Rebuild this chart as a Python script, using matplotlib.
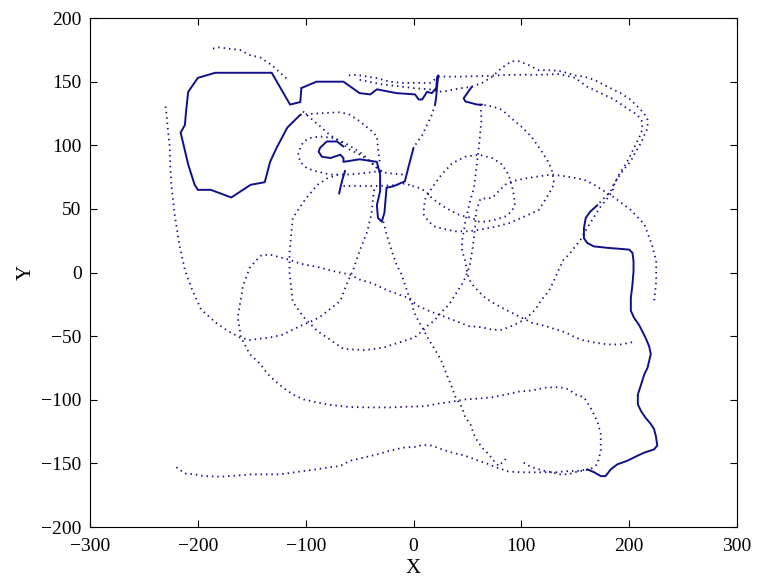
import matplotlib
matplotlib.use("Agg")
import matplotlib.pyplot as plt

# trajectory pieces (X, Y)
# dense (solid-looking) parts
loop_x = [-104, -105, -114.5, -131.5, -150, -170, -184, -200, -209, -211, -212, -216, -214, -209, -203, -200, -188, -169, -160, -151, -138, -133, -127, -117, -105]
loop_y = [145, 134, 132, 157, 157, 157, 157, 153, 142, 126, 116, 110, 103, 85, 69, 65, 65, 59, 64, 69, 71, 87, 98, 114, 124]

top_x = [-104, -90, -65, -50, -40, -34, -15.6, 1.4, 4.8, 8, 11, 12.5, 17, 21, 22, 23, 22, 21, 20]
top_y = [145, 150, 150, 141, 140, 144, 141, 140, 136, 136, 140, 142, 141, 145, 154, 155, 148, 138, 132]

drop_x = [0, -1.7, -5, -8, -19, -25]
drop_y = [98, 92.6, 82, 71.7, 67.7, 66.7]

spiral_x = [-65, -71, -80.5, -86.7, -88, -85, -77, -68, -65, -65, -50, -34, -31, -31, -34, -33, -29.5, -27, -26, -25]
spiral_y = [99, 103, 103, 98, 95, 91, 90, 92.6, 90, 87, 89, 87, 77, 64, 53, 43, 40, 47, 57, 66.7]

stub_x = [-63.5, -66, -68, -69]
stub_y = [80, 73, 66, 62]

tri_x = [54, 46.5, 48, 59, 63.5]
tri_y = [146, 137, 134.5, 132, 132]

right_x = [161, 167.6, 173.6, 178, 183, 189, 198, 207.6, 214, 223, 226, 224.7, 223, 220, 215, 211, 208, 208, 211, 214, 217, 220, 218.5, 215, 212, 209, 204.5, 201.5, 201.5, 203, 204, 204, 203, 200, 192, 180, 167, 161, 158, 158, 159.7, 164, 170.5]
right_y = [-154.6, -157, -160, -160, -154.6, -150.7, -148, -144, -141.5, -139, -136, -128.5, -123, -119, -114, -109, -103.6, -95.8, -88, -80, -74.8, -64, -58, -51, -46, -41, -35.6, -30, -20, -9.4, 1, 9, 15.5, 18, 18.6, 19.4, 20.6, 23.3, 27, 35, 43, 48, 53]

# dotted parts
arc_x = [-186, -180, -172, -161, -152, -142, -131.5, -121, -116]
arc_y = [176, 177, 176, 175, 171, 169, 163, 155, 151]

left_x = [-230, -229, -228, -226, -225.6, -224.6, -221.5, -217, -212, -206, -197, -184, -172, -161, -152, -133, -122, -105, -94, -87, -68, -62, -56, -50, -43, -39, -37.5, -36]
left_y = [130.5, 124, 114, 98, 84.7, 69, 45.5, 21, 2, -12, -29, -39, -46, -51, -53, -51, -49, -42, -38, -35, -22.5, -9, 2, 17, 32, 46, 59, 68]

midh_x = [-65, -50, -36, -20, -8, -1]
midh_y = [68, 68, 68, 68.5, 70, 68]

sink_x = [20, 17, 12.5, 8, 3, 0]
sink_y = [132, 124, 116, 108, 102, 98]

junc_x = [-102.5, -96, -86.7, -77.5, -68, -59, -49.6, -40, -34, -29.5]
junc_y = [126.6, 121.7, 115, 108, 103, 96.5, 92.6, 87, 82, 79.5]

bend_x = [-105, -90, -68, -59, -50, -40, -34, -33, -31]
bend_y = [124, 125, 126, 124, 119, 112, 107, 98, 85]

mid_x = [-29.5, -37, -46.6, -56, -63.5, -74, -86.7, -96, -102, -105, -107, -105, -99, -90, -77.5, -62, -46.6, -34, -22, -9.5]
mid_y = [79.5, 84.8, 92.6, 98, 101.8, 105.7, 107, 105.7, 103, 98, 92.6, 87, 82, 79.5, 77, 77, 78, 79.5, 78, 77]

upper1_x = [-60, -53, -34, -22, -9.5, 1.4, 15, 22]
upper1_y = [155, 155.4, 152.8, 150, 149, 149, 149, 153]

upper2_x = [-50, -30, -10, 0, 15, 26.4, 35.7, 45, 54]
upper2_y = [151.5, 148, 146, 145, 144, 142, 143.6, 145, 146]

ell_x = [-70, -80, -89, -100, -112, -115, -115, -112, -102, -89, -65, -45, -28, 1, 8, 14, 19, 26, 33, 39, 45, 48, 52, 55, 57, 58, 62, 73, 79, 85, 91, 104, 116, 128.5, 141, 151.7, 158, 167.6, 186, 201, 214, 221, 225, 225, 223]
ell_y = [77, 74, 69, 58, 43, 16, 0, -23, -35, -46, -60, -61, -59, -51, -46, -41, -38, -31, -25, -17, -9, -4, 5, 20, 35, 48, 58, 58.6, 64, 69, 71.7, 74, 75.6, 77, 75.6, 74, 73, 69, 59, 49.5, 38, 22, 9, -7, -23.5]

vert_x = [62, 63, 62, 60.5, 58, 56, 52.7, 51, 48, 46.5, 45, 45, 48, 49.6, 51, 54, 60.5, 66.6, 76, 85, 91, 100.6, 110, 122, 132, 141, 150, 158, 167.6, 180, 192, 201.5, 206]
vert_y = [132, 120, 111, 98, 80, 66.5, 57, 51, 40, 32, 25, 17, 9, 1, -4, -9, -15, -20, -25, -29, -31.6, -35.6, -39.5, -42, -44.7, -47, -51, -53.4, -55, -56.5, -56.5, -55, -54]

fig8_x = [-1, 5, 11, 17, 23, 29.5, 36, 42, 48, 54, 60.5, 66.6, 76, 85, 91, 94, 93, 91, 88, 82, 73, 60.5, 48, 36, 26, 17, 11, 9.5, 9.5, 14, 20, 29.5, 39, 51, 63.5, 76, 89, 100, 116, 125, 130, 130, 128.5, 125, 119, 110, 101, 91, 82, 73, 63.5]
fig8_y = [68, 66.5, 64, 58.6, 54.7, 51, 48, 45.5, 44, 43, 40, 40, 41.6, 44, 48, 53, 61, 69, 77, 85, 90, 92.6, 91, 86, 77, 66.5, 58, 51, 45.5, 40, 36, 34, 32.4, 32.4, 34, 36, 39, 43, 49, 61, 69, 72, 79.5, 87, 95, 106, 114, 121, 128, 130.5, 132]

hump_x = [54, 63.5, 73, 82, 91, 98, 107, 116, 128.5, 138, 149, 158, 167.6, 180, 192, 201, 207.6, 214, 217, 217, 214, 211, 206, 201.5, 195, 189, 184.6, 183, 176.7, 170.5]
hump_y = [146, 149, 154, 161, 166, 166, 163, 159, 159, 158, 155, 154, 151.5, 146, 141, 136, 130.5, 125, 120, 113.6, 108, 102, 95, 87.6, 81, 74, 67.7, 64, 58.6, 53]

long_x = [23, 45, 70, 91, 116, 135, 150, 161, 173.6, 186, 198, 207.6, 212, 212, 209, 204.5, 200, 195, 190.6, 186, 184.6, 180, 173.6, 167.6, 161, 155, 150, 144, 139, 134.7, 130, 125.4, 119, 113, 107, 100.6, 91, 82, 73, 63.5, 51, 39, 26.4, 14, 4.8, -6, -19, -28, -37.6, -50, -59, -68, -77, -87, -96, -105, -115, -124, -133, -141, -147, -152, -158, -163, -160, -152, -142, -136, -130, -121, -111.5, -102, -90, -77.5, -59, -40, -22, -3, 11, 23, 35.7, 48, 60.5, 73, 85, 97.6, 110, 122, 135, 144, 150, 158, 164, 170.5, 173.6, 173.6, 170.5, 164, 155, 149, 144, 135, 128.5, 122, 116, 110, 104, 100.6]
long_y = [154, 154, 154.6, 155.4, 155.4, 156, 153, 146, 141, 136, 129, 124, 118.7, 112, 105.7, 98, 90, 83, 77, 69, 64, 58.6, 52, 44, 35, 26, 20.6, 14, 10, 2.4, -6.8, -14.7, -21, -29, -34, -38, -42, -45, -45, -43, -42, -38, -34, -30, -26.5, -19.6, -15.7, -12.6, -8.6, -5.5, -1.6, 0, 1.6, 4, 5.5, 7, 10, 12, 14, 13.6, 8.6, 3.6, -10, -35, -51, -64, -72, -79, -84, -90.5, -96, -99.7, -102, -104, -105.7, -106, -106, -105.4, -105, -103, -101.5, -99.7, -99, -98, -96, -93.6, -92.6, -90.5, -90, -91.8, -95.8, -98, -106, -117, -127, -140, -150.7, -154.6, -156, -157, -158.6, -158.6, -157, -156, -154.6, -153, -150.7, -148]

diag_x = [-28, -25, -22, -19, -15.6, -11, -8, -5, -1.7, 0, 3, 8, 14, 23, 26, 29.5, 32.6, 35.7, 39, 45, 48, 52.7, 55.8, 59, 63.5, 70, 74.4, 79, 83.7, 86.7]
diag_y = [40, 30, 22, 14, 6, -1.6, -9.4, -17, -22.5, -30, -35.6, -43, -52.6, -65, -70, -77.5, -84, -90.5, -98, -106, -114, -119, -127, -132, -137.6, -143, -148, -152, -148, -145.5]

bottom_x = [-220, -212, -203, -194, -178, -163, -150, -124, -102, -90, -77.5, -68, -59, -46.6, -34, -22, -9.5, 1.4, 8, 17, 26.4, 35.7, 48, 60.5, 70, 76, 82, 88, 100.6, 116, 131.5, 144, 151.7, 161]
bottom_y = [-153, -158, -158.6, -160, -160.4, -159.5, -158.6, -158.6, -156, -154.6, -153, -152, -148, -145.5, -143, -140, -137.6, -137, -135.5, -136, -139, -141.5, -144, -148, -150.7, -153, -154.6, -156.4, -157, -157, -157, -156, -156, -154.6]

x_ticks = [-300, -200, -100, 0, 100, 200, 300]
y_ticks = [-200, -150, -100, -50, 0, 50, 100, 150, 200]

dense = [(loop_x, loop_y), (top_x, top_y), (drop_x, drop_y), (spiral_x, spiral_y),
         (stub_x, stub_y), (tri_x, tri_y), (right_x, right_y)]
dotted = [(arc_x, arc_y), (left_x, left_y), (midh_x, midh_y), (sink_x, sink_y),
          (junc_x, junc_y), (bend_x, bend_y), (mid_x, mid_y), (upper1_x, upper1_y),
          (upper2_x, upper2_y), (ell_x, ell_y), (vert_x, vert_y), (fig8_x, fig8_y),
          (hump_x, hump_y), (long_x, long_y), (diag_x, diag_y), (bottom_x, bottom_y)]

plt.rcParams["font.family"] = ["Liberation Serif", "DejaVu Serif"]
col = "#10108a"

fig = plt.figure(figsize=(7.59, 5.81), dpi=100)
ax = fig.add_axes([0.1186, 0.0929, 0.8525, 0.876])

for x, y in dotted:
    ax.plot(x, y, color=col, lw=1.3, linestyle=(0, (0.8, 2.2)), dash_capstyle="butt")
for x, y in dense:
    ax.plot(x, y, color=col, lw=1.4, solid_capstyle="round")

ax.set_xlim(-300, 300)
ax.set_ylim(-200, 200)
ax.set_xticks(x_ticks)
ax.set_yticks(y_ticks)
ax.tick_params(direction="in", length=5, top=True, right=True, labelsize=14, width=0.8)
ax.tick_params(axis="x", pad=8)
ax.tick_params(axis="y", pad=6)
for s in ax.spines.values():
    s.set_linewidth(0.8)
ax.set_xlabel("X", fontsize=15, labelpad=3)
ax.set_ylabel("Y", fontsize=15, labelpad=4)

fig.savefig("out.png", dpi=100)
